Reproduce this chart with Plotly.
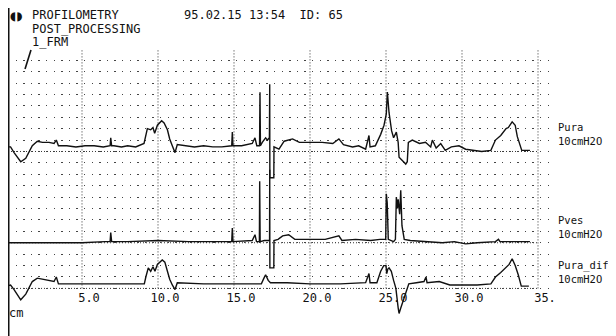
import plotly.graph_objects as go

# ---------------- data (position along urethra in cm, pressure in cmH2O) ----------------
pura_x = [0.0, 0.3, 0.53, 0.97, 1.3, 1.73, 2.06, 2.4, 2.83, 3.16, 3.31, 3.45, 4.0, 4.6, 5.2, 5.8,
          6.4, 6.85, 6.89, 6.95, 7.1, 7.6, 8.0, 8.53, 9.08, 9.3, 9.52, 9.67, 9.78, 9.96, 10.24,
          10.4, 10.62, 10.77, 10.94, 11.12, 11.27, 11.8, 12.4, 13.0, 13.6, 14.2, 14.85, 14.89,
          14.93, 15.5, 16.2, 16.38, 16.5, 16.68, 16.71, 16.74, 16.86, 17.08, 17.2, 17.33, 17.35,
          17.36, 17.62, 17.63, 17.96, 18.3, 18.85, 19.3, 19.9, 20.8, 21.5, 21.9, 22.2, 22.8,
          23.2, 23.66, 23.88, 23.95, 24.3, 24.65, 24.87, 25.02, 25.09, 25.2, 25.37, 25.5, 25.68,
          25.8, 25.86, 26.07, 26.3, 26.4, 26.47, 26.73, 27.2, 27.6, 27.94, 28.05, 28.3, 28.6,
          28.9, 29.3, 29.8, 30.24, 30.8, 31.3, 31.9, 32.2, 32.55, 32.9, 33.05, 33.3, 33.5, 33.64,
          33.93, 34.2, 34.47]
pura_v = [4, 4, -1, -9, -6, 5, 9, 8, 8, 7, 10, 5, 5, 4, 5, 5,
          4, 5, 12, 5, 5, 4, 5, 4, 7, 20, 19, 21, 16, 23, 27,
          25, 19, 11, 5, -1, 6, 5, 4, 5, 4, 4, 5, 17,
          5, 5, 7, 12, 5, 5, 52, 5, 8, 12, 10, 12, 59,
          -23, -23, 4, 2, 9, 11, 8, 8, 8, 7, 11, 6, 4,
          5, 2, 14, 4, 5, 15, 23, 33, 52, 34, 18, 12, 17,
          8, -5, -8, -11, -9, 8, 10, 7, 8, 4, 10, 3, 7,
          1, 4, 5, 2, 1, 0, 1, 10, 14, 20, 21, 26, 23, 13,
          1, 1, 1]

pves_x = [0.0, 3.0, 5.0, 6.5, 6.85, 6.89, 6.95, 8.0, 10.0, 12.0, 14.0, 14.85, 14.89, 14.93,
          16.2, 16.38, 16.48, 16.67, 16.69, 16.72, 17.0, 17.34, 17.35, 17.36, 17.62, 17.63,
          17.9, 18.2, 18.6, 19.0, 19.28, 20.0, 21.0, 21.9, 22.1, 23.0, 24.0, 24.6, 24.98,
          25.02, 25.08, 25.15, 25.5, 25.62, 25.68, 25.75, 25.8, 25.9, 25.97, 26.05, 26.2,
          26.6, 27.5, 28.7, 29.5, 30.24, 31.0, 32.2, 32.4, 32.5, 33.5, 34.47]
pves_v = [0, 0, 0, 1, 1, 9, 1, 1, 2, 1, 1, 1, 13, 1,
          2, 7, 1, 1, 54, 1, 2, 2, 64, -22, -22, 2,
          3, 6, 7, 3, 3, 3, 3, 6, 2, 3, 2, 3, 3,
          43, 35, 3, 1, 3, 40, 30, 38, 25, 46, 15, 3,
          2, 1, 0, 1, -1, 0, 1, 3, 1, 1, 1]

dif_x = [0.0, 0.3, 0.53, 0.97, 1.3, 1.73, 2.06, 2.4, 2.83, 3.16, 3.31, 3.45, 5.0, 7.0, 8.0,
         9.1, 9.2, 9.36, 9.52, 9.67, 9.8, 9.96, 10.28, 10.45, 10.62, 10.77, 10.94, 11.12,
         11.27, 13.0, 15.0, 16.8, 16.97, 17.08, 17.25, 17.4, 18.5, 20.0, 22.0, 23.66, 23.88,
         23.95, 24.4, 24.65, 24.85, 25.0, 25.05, 25.12, 25.2, 25.35, 25.5, 25.65, 25.8, 25.86,
         25.95, 26.05, 26.2, 26.35, 26.5, 27.0, 27.5, 27.63, 27.7, 28.5, 29.2, 30.0, 31.0,
         31.9, 32.2, 32.55, 32.9, 33.1, 33.3, 33.5, 33.7, 33.9, 34.4]
dif_v = [2, 3, -1, -10, -5, 6, 9, 8, 7, 6, 10, 4, 4, 4, 4,
         4, 10, 18, 15, 19, 15, 21, 25, 23, 15, 8, 3, -1,
         5, 4, 4, 4, 9, 12, 7, 5, 5, 4, 4, 5, 13,
         5, 5, 15, 20, 20, 13, 17, 18, 15, 7, 0, -17, -22,
         -18, -14, -10, -4, 4, 5, 6, 10, 5, 6, 3, 3, 3,
         4, 10, 14, 19, 21, 26, 20, 12, 2, 2]

channel_names = ["Pura", "Pves", "Pura_dif"]
channel_scale = ["10cmH2O", "10cmH2O", "10cmH2O"]
tick_values = [5, 10, 15, 20, 25, 30, 35]
tick_labels = ["5.0", "10.0", "15.0", "20.0", "25.0", "30.0", "35."]
header_left = ["PROFILOMETRY", "POST_PROCESSING", "1_FRM"]
header_right = "95.02.15 13:54  ID: 65"

# ---------------- layout constants ----------------
OFF = 8                      # the page body margin shifts the figure by 8 px
W, H = 616 - OFF, 336 - OFF  # figure size that fills the rest of the window
ML, MR, MT, MB = 0, 61, 40, 0
PX_PER_CM = 15.2
CM0_SCREEN = 6.0             # screen column of 0 cm
ROW0_SCREEN = 288.4          # screen row of the lowest zero line
PX_PER_DIV = 11.41
CM_PER_DIV = 10.0
baselines = [12, 4, 0]       # grid row of each channel's zero line
N_ROWS = 21
FONT = "DejaVu Sans Mono"
INK = "#111111"

plot_h = H - MT - MB
plot_w = W - ML - MR

x_lo = (ML + OFF - CM0_SCREEN) / PX_PER_CM
x_hi = x_lo + plot_w / PX_PER_CM
y_hi = (ROW0_SCREEN - (MT + OFF)) / PX_PER_DIV
y_lo = y_hi - plot_h / PX_PER_DIV


def py(sy):  # screen row -> paper y
    return (H - MB - (sy - OFF)) / plot_h


def px(sx):  # screen column -> paper x
    return (sx - OFF - ML) / plot_w


fig = go.Figure()
for xs, vs, base, name in zip([pura_x, pves_x, dif_x], [pura_v, pves_v, dif_v], baselines, channel_names):
    fig.add_trace(go.Scatter(
        x=xs, y=[v / CM_PER_DIV + base for v in vs], mode="lines", name=name,
        line=dict(color=INK, width=1.4), hoverinfo="skip"))

shapes = []
for xv in tick_values:
    shapes.append(dict(type="line", xref="x", yref="y", x0=xv, x1=xv, y0=0, y1=N_ROWS,
                       line=dict(color="#333333", width=1, dash="1px,2px"), layer="below"))
for b in baselines:
    shapes.append(dict(type="line", xref="x", yref="y", x0=x_lo, x1=35, y0=b, y1=b,
                       line=dict(color="#333333", width=1, dash="1px,2px"), layer="below"))
# left solid axis line
shapes.append(dict(type="line", xref="paper", yref="paper", x0=0, x1=0, y0=0, y1=py(OFF),
                   line=dict(color=INK, width=3)))
# frame marker under "1_FRM"
shapes.append(dict(type="line", xref="paper", yref="paper", x0=px(25), x1=px(31),
                   y0=py(69), y1=py(50), line=dict(color=INK, width=1.6)))


def label(text, sx, sy, size=12, family=FONT):
    return dict(text=text, xref="paper", yref="paper", x=px(sx), y=py(sy),
                xanchor="left", yanchor="middle", showarrow=False, borderpad=0,
                font=dict(family=family, size=size, color=INK))


annotations = []
for i, t in enumerate(header_left):
    annotations.append(label(t, 31, 15.5 + 13.5 * i))
annotations.append(label(header_right, 183, 15.5))
annotations.append(label("◖◗", 9, 16, size=12, family="DejaVu Sans"))
label_rows = [(127, 141), (220, 234), (265, 279)]
for name, scale, (r1, r2) in zip(channel_names, channel_scale, label_rows):
    annotations.append(label(name, 557, r1, size=10.5))
    annotations.append(label(scale, 557, r2, size=10.5))
annotations.append(label("cm", 8, 313))

fig.update_layout(
    width=W, height=H, margin=dict(l=ML, r=MR, t=MT, b=MB, pad=0),
    paper_bgcolor="white", plot_bgcolor="white", showlegend=False,
    shapes=shapes, annotations=annotations,
    xaxis=dict(range=[x_lo, x_hi], tickvals=tick_values, ticktext=tick_labels,
               showgrid=False, zeroline=False, showline=False, ticks="",
               anchor="free", position=py(ROW0_SCREEN), ticklabelshift=7, ticklabelstandoff=1,
               tickfont=dict(family=FONT, size=12, color=INK), automargin=False,
               fixedrange=True),
    yaxis=dict(range=[y_lo, y_hi], tickvals=list(range(0, N_ROWS)), showticklabels=False,
               showgrid=True, gridcolor="#444444", gridwidth=1.3, griddash="1.3px,6.3px",
               zeroline=False, showline=False, ticks="", automargin=False, fixedrange=True),
)

fig.write_html("out.html")
